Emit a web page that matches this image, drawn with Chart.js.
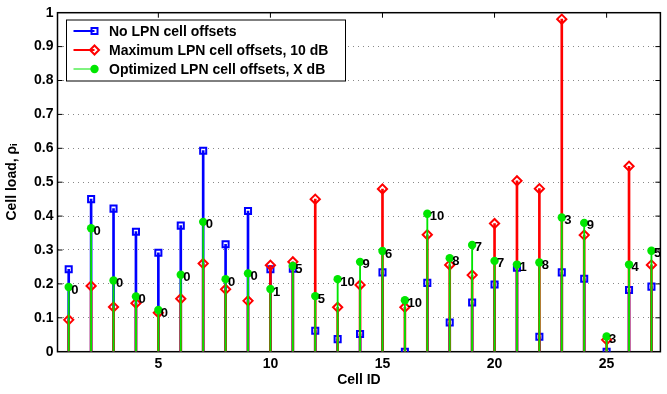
<!DOCTYPE html>
<html>
<head>
<meta charset="utf-8">
<script src="https://cdn.jsdelivr.net/npm/chart.js@4.4.0/dist/chart.umd.min.js"></script>
<style>
  html, body { margin: 0; padding: 0; background: #fff; }
  #wrap { width: 667px; height: 394px; position: relative; }
</style>
</head>
<body>
<div id="wrap"><canvas id="myChart"></canvas></div>
<script>
const cellIds = [1, 2, 3, 4, 5, 6, 7, 8, 9, 10, 11, 12, 13, 14, 15, 16, 17, 18, 19, 20, 21, 22, 23, 24, 25, 26, 27];
const noOffsetLoad = [0.243, 0.450, 0.422, 0.354, 0.292, 0.372, 0.593, 0.317, 0.415, 0.243, 0.245, 0.062, 0.037, 0.052,
  0.234, 0.000, 0.203, 0.086, 0.145, 0.198, 0.248, 0.044, 0.234, 0.215, 0.000, 0.182, 0.192];
const maxOffsetLoad = [0.094, 0.194, 0.132, 0.143, 0.115, 0.156, 0.260, 0.184, 0.150, 0.255, 0.265, 0.450, 0.131, 0.197,
  0.480, 0.131, 0.345, 0.256, 0.226, 0.378, 0.504, 0.481, 0.981, 0.344, 0.035, 0.547, 0.256];
const optOffsetLoad = [0.191, 0.364, 0.210, 0.163, 0.123, 0.227, 0.383, 0.214, 0.231, 0.185, 0.253, 0.164, 0.214, 0.265,
  0.297, 0.152, 0.407, 0.276, 0.315, 0.268, 0.257, 0.263, 0.396, 0.380, 0.045, 0.257, 0.298];
const optOffsetDb = [0, 0, 0, 0, 0, 0, 0, 0, 0, 1, 5, 5, 10, 9, 6, 10, 10, 8, 7, 7, 1, 8, 3, 9, 3, 4, 5];
const xTicks = [5, 10, 15, 20, 25];
const seriesNames = ['No LPN cell offsets', 'Maximum LPN cell offsets, 10 dB', 'Optimized LPN cell offsets, X dB'];

const BLUE = '#0000ff', RED = '#ff0000', GREEN = '#00e600';
const FONT = "'Liberation Sans', Arial, sans-serif";

const pts = vals => cellIds.map((c, i) => ({ x: c, y: vals[i] }));

// frame, inward ticks, legend, offset labels
const matlabLook = {
  id: 'matlabLook',
  beforeDatasetsDraw(chart) {
    const { ctx, chartArea: a, scales: { x, y } } = chart;
    ctx.save();
    ctx.strokeStyle = '#000';
    ctx.lineWidth = 1;
    ctx.beginPath();
    xTicks.forEach(t => {
      const px = x.getPixelForValue(t);
      ctx.moveTo(px, a.top); ctx.lineTo(px, a.top + 5);
      ctx.moveTo(px, a.bottom); ctx.lineTo(px, a.bottom - 5);
    });
    for (let k = 1; k < 10; k++) {
      const py = y.getPixelForValue(k / 10);
      ctx.moveTo(a.left, py); ctx.lineTo(a.left + 5, py);
      ctx.moveTo(a.right, py); ctx.lineTo(a.right - 5, py);
    }
    ctx.stroke();
    ctx.lineWidth = 1.5;
    ctx.strokeRect(a.left, a.top, a.right - a.left, a.bottom - a.top);
    ctx.restore();
  },
  afterDatasetsDraw(chart) {
    const { ctx } = chart;
    const meta = chart.getDatasetMeta(5);
    ctx.save();
    ctx.fillStyle = '#000';
    ctx.font = 'bold 13px ' + FONT;
    ctx.textAlign = 'left';
    ctx.textBaseline = 'middle';
    meta.data.forEach((el, i) => {
      ctx.fillText(String(optOffsetDb[i]), el.x + 2.5, el.y + 3);
    });
    ctx.restore();
  },
  afterDraw(chart) {
    const { ctx } = chart;
    ctx.save();
    const bx = 66.5, by = 20, bw = 279, bh = 61;
    ctx.fillStyle = '#fff';
    ctx.fillRect(bx, by, bw, bh);
    ctx.strokeStyle = '#000';
    ctx.lineWidth = 1;
    ctx.strokeRect(bx, by, bw, bh);
    const rows = [31, 50, 69];
    const cols = [BLUE, RED, GREEN];
    rows.forEach((ry, i) => {
      ctx.strokeStyle = cols[i];
      ctx.lineWidth = i === 2 ? 1 : 2;
      ctx.beginPath();
      ctx.moveTo(73.5, ry); ctx.lineTo(94.5, ry);
      ctx.stroke();
      ctx.lineWidth = 2;
      if (i === 0) {
        ctx.strokeRect(91.5, ry - 3, 6, 6);
      } else if (i === 1) {
        ctx.beginPath();
        ctx.moveTo(94.5 - 4.5, ry); ctx.lineTo(94.5, ry - 4.5);
        ctx.lineTo(94.5 + 4.5, ry); ctx.lineTo(94.5, ry + 4.5);
        ctx.closePath();
        ctx.stroke();
      } else {
        ctx.fillStyle = GREEN;
        ctx.beginPath();
        ctx.arc(94.5, ry, 4.2, 0, Math.PI * 2);
        ctx.fill();
      }
      ctx.fillStyle = '#000';
      ctx.font = 'bold 14px ' + FONT;
      ctx.textBaseline = 'middle';
      ctx.fillText(seriesNames[i], 109, ry + 1);
    });
    ctx.restore();
  }
};

const stem = (vals, color, width, order) => ({
  type: 'bar', data: pts(vals), backgroundColor: color, borderWidth: 0,
  barThickness: width, grouped: false, order: order
});
const marker = (vals, style, color, fill, radius, order) => ({
  type: 'scatter', data: pts(vals), pointStyle: style, pointRadius: radius,
  borderColor: color, backgroundColor: fill, pointBorderWidth: style === 'circle' ? 0 : 2,
  showLine: false, order: order
});

new Chart(document.getElementById('myChart'), {
  type: 'scatter',
  data: {
    datasets: [
      stem(noOffsetLoad, BLUE, 2, 6),
      marker(noOffsetLoad, 'rect', BLUE, 'rgba(0,0,0,0)', 4.3, 5),
      stem(maxOffsetLoad, RED, 2, 4),
      marker(maxOffsetLoad, 'rectRot', RED, 'rgba(0,0,0,0)', 4.6, 3),
      stem(optOffsetLoad, GREEN, 1.2, 2),
      marker(optOffsetLoad, 'circle', GREEN, GREEN, 4.2, 1)
    ]
  },
  plugins: [matlabLook],
  options: {
    responsive: true,
    maintainAspectRatio: false,
    animation: false,
    layout: { padding: { top: 12.7, left: 0, right: 0, bottom: 0 } },
    plugins: { legend: { display: false }, tooltip: { enabled: false } },
    scales: {
      x: {
        type: 'linear', min: 0.5, max: 27.4, offset: false,
        grid: { display: false, offset: false, drawTicks: false },
        border: { display: false },
        afterBuildTicks: s => { s.ticks = xTicks.map(v => ({ value: v })); },
        afterFit: s => { s.height = 42.3; s.paddingLeft = 0; s.paddingRight = 0; },
        ticks: { color: '#000', padding: 4, maxRotation: 0, font: { family: FONT, size: 14, weight: 'bold' } },
        title: { display: true, text: 'Cell ID', color: '#000', padding: { top: 0, bottom: 5 },
          font: { family: FONT, size: 14, weight: 'bold' } }
      },
      y: {
        min: 0, max: 1,
        grid: { color: '#888', lineWidth: 1, drawTicks: false },
        border: { display: false, dash: [1, 4] },
        afterFit: s => { s.width = 57.5; s.paddingTop = 0; s.paddingBottom = 0; },
        ticks: { stepSize: 0.1, color: '#000', padding: 4, font: { family: FONT, size: 14, weight: 'bold' },
          callback: v => String(Math.round(v * 10) / 10) },
        title: { display: true, text: 'Cell load, ρᵢ', color: '#000', padding: { top: 4, bottom: 0 },
          font: { family: FONT, size: 14, weight: 'bold' } }
      }
    }
  }
});
</script>
</body>
</html>
